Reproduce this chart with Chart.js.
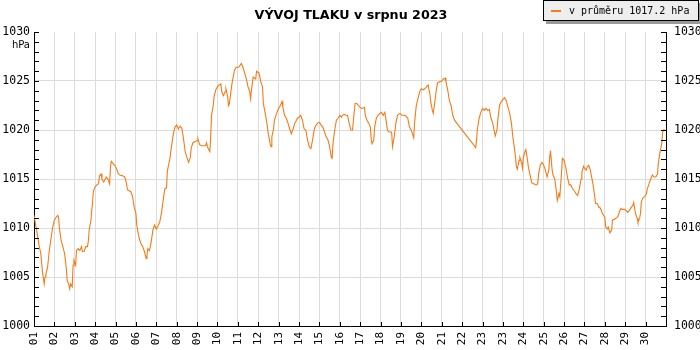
<!DOCTYPE html>
<html>
<head>
<meta charset="utf-8">
<script src="https://cdn.jsdelivr.net/npm/chart.js@4.4.0/dist/chart.umd.min.js"></script>
<style>
  html, body { margin: 0; padding: 0; background: #fff; }
  #wrap { width: 700px; height: 350px; }
</style>
</head>
<body>
<div id="wrap"><canvas id="c" width="700" height="350"></canvas></div>
<script>
const TITLE = 'VÝVOJ TLAKU v srpnu 2023';
const LEGEND_TEXT = 'v průměru 1017.2 hPa';
const UNIT = 'hPa';
const DAY_LABELS = ['01','02','03','04','05','06','07','08','09','10','11','12','13','14','15','16','17','18','19','20','21','22','23','23','24','25','26','27','28','29','30'];
const Y_MIN = 1000, Y_MAX = 1030;
const HOURS_TOTAL = 744;

// hours since 1 Aug 00:00
const hours = [0,3,6,8,10,12,13,14,16,18,20,22,24,26,28,29,30,32,34,36,37,38,39,41,42,43,45,46,47,49,50,52,54,56,57,59,61,63,64,65,67,68,69,70,72,74,76,77,79,80,82,84,85,87,89,90,91,93,95,97,99,101,105,107,109,110,112,114,116,118,120,121,123,124,126,128,130,132,133,134,136,138,140,142,144,146,148,150,152,154,156,157,160,162,164,166,168,170,172,174,176,178,180,182,184,185,187,189,192,193,195,197,199,202,203,205,207,208,209,211,212,214,216,218,220,221,223,225,226,228,229,230,233,236,238,241,244,246,248,250,252,254,255,256,258,261,262,265,267,269,270,272,274,276,278,279,280,282,283,286,288,290,292,293,295,297,299,301,303,305,307,309,310,312,314,316,318,320,322,324,326,328,330,332,334,336,338,340,342,344,346,348,350,351,352,354,356,358,360,362,363,365,367,369,371,373,375,376,378,380,382,384,386,389,390,392,394,396,397,398,400,401,403,405,407,409,411,413,415,416,418,421,422,424,426,428,429,431,433,436,438,440,442,444,446,447,448,450,452,454,456,458,460,462,464,466,467,469,470,471,473,475,477,480,482,484,485,487,489,491,493,495,520,521,522,524,526,528,530,532,534,536,538,540,542,543,545,546,548,550,552,554,556,558,560,562,564,566,568,569,571,572,574,575,576,578,579,581,582,584,586,589,591,593,594,596,598,600,602,604,606,607,608,610,611,613,615,616,618,619,621,622,624,626,628,630,632,634,636,638,640,642,644,645,647,648,650,651,653,655,656,658,660,661,663,665,666,668,669,672,673,675,676,678,680,681,683,685,687,689,691,693,695,697,699,701,703,705,706,708,710,711,713,714,715,717,719,721,722,724,726,728,730,732,734,735,737,739,740,742];

const pressure = [1011.3,1009.8,1008.2,1007.4,1005.5,1004.3,1005.0,1005.3,1006.0,1007.7,1008.9,1010.1,1010.8,1011.1,1011.3,1011.0,1009.9,1008.7,1008.1,1007.4,1006.7,1005.9,1004.7,1004.2,1003.8,1004.3,1004.0,1006.2,1006.7,1006.2,1007.7,1007.9,1007.7,1008.1,1007.6,1007.6,1008.1,1008.1,1008.7,1009.8,1010.8,1011.8,1012.7,1013.8,1014.2,1014.4,1014.5,1015.3,1015.5,1015.0,1014.7,1015.0,1015.2,1015.0,1014.5,1016.2,1016.8,1016.6,1016.4,1016.1,1015.6,1015.4,1015.3,1015.2,1014.5,1013.9,1013.8,1013.7,1013.2,1012.1,1011.5,1010.3,1009.3,1008.9,1008.4,1008.1,1007.6,1006.9,1007.2,1007.9,1007.7,1008.6,1009.8,1010.3,1009.9,1010.2,1010.6,1011.5,1012.8,1014.0,1014.1,1015.8,1017.1,1018.4,1019.6,1020.3,1020.5,1020.1,1020.4,1020.2,1019.1,1017.8,1017.2,1016.7,1017.2,1018.1,1018.7,1018.8,1018.9,1019.1,1018.5,1018.4,1018.4,1018.4,1018.7,1018.1,1017.8,1019.3,1021.5,1022.5,1023.4,1024.1,1024.4,1024.6,1024.7,1023.9,1023.5,1023.9,1024.2,1023.4,1022.5,1022.7,1024.7,1026.1,1026.4,1026.4,1026.8,1026.4,1025.8,1025.2,1024.4,1023.9,1023.2,1024.1,1025.4,1025.2,1026.0,1025.8,1024.9,1024.4,1022.7,1021.8,1020.8,1019.5,1018.6,1018.3,1019.3,1020.1,1021.0,1021.8,1022.2,1022.5,1022.9,1022.3,1021.5,1021.2,1020.7,1020.1,1019.6,1020.1,1020.7,1021.0,1021.2,1021.3,1021.5,1021.0,1020.1,1020.0,1019.0,1018.3,1018.1,1019.0,1020.1,1020.5,1020.7,1020.8,1020.5,1020.3,1019.8,1019.3,1019.0,1018.3,1017.2,1017.1,1018.6,1020.0,1021.0,1021.2,1021.5,1021.3,1021.5,1021.6,1021.5,1021.5,1020.7,1020.0,1020.0,1021.0,1022.7,1022.7,1022.5,1022.3,1022.2,1022.3,1021.5,1021.0,1020.7,1020.3,1019.0,1018.6,1019.0,1020.3,1021.2,1021.5,1021.7,1021.8,1021.5,1021.8,1020.7,1020.0,1019.8,1019.8,1018.3,1019.3,1020.7,1021.5,1021.6,1021.7,1021.5,1021.5,1021.4,1021.2,1020.3,1020.0,1019.5,1019.2,1020.7,1022.5,1023.2,1023.9,1024.2,1024.1,1024.2,1024.4,1024.6,1023.7,1022.9,1022.0,1021.7,1022.3,1023.7,1024.8,1024.9,1025.0,1025.2,1025.3,1024.9,1024.1,1023.0,1022.5,1021.5,1021.0,1018.2,1019.0,1020.1,1021.2,1021.8,1022.2,1022.0,1022.2,1022.0,1022.1,1021.2,1020.7,1019.8,1019.4,1020.0,1021.0,1022.5,1022.9,1023.1,1023.3,1023.0,1022.3,1021.7,1020.7,1019.1,1017.9,1016.2,1016.0,1016.9,1017.2,1016.7,1016.1,1017.2,1017.8,1018.0,1016.9,1016.2,1015.4,1014.6,1014.5,1014.4,1014.5,1015.5,1016.4,1016.7,1016.4,1015.9,1015.2,1015.9,1017.1,1017.9,1015.9,1015.4,1015.0,1013.7,1012.8,1013.5,1013.2,1015.6,1017.1,1016.9,1016.2,1015.2,1014.4,1014.4,1014.0,1013.8,1013.5,1013.3,1014.0,1015.0,1015.7,1016.3,1016.1,1015.9,1016.2,1016.4,1015.9,1015.4,1014.5,1013.3,1012.5,1012.5,1012.1,1012.1,1011.8,1011.5,1011.1,1010.1,1009.9,1010.1,1009.5,1009.8,1010.8,1010.9,1011.0,1011.1,1011.6,1012.0,1011.9,1011.9,1011.8,1011.6,1011.8,1012.1,1012.3,1012.6,1011.5,1011.0,1010.6,1011.0,1011.5,1012.7,1013.1,1013.2,1013.5,1014.0,1014.5,1015.0,1015.4,1015.2,1015.2,1015.5,1016.6,1017.8,1018.6,1019.8,1020.1];

const LINE_COLOR = '#f47b16';
const GRID_COLOR = '#dcdcdc';
const MONO = '"DejaVu Sans Mono", monospace';

const decorPlugin = {
  id: 'decor',
  afterDraw(chart) {
    const { ctx, chartArea: a, scales } = chart;
    const x = scales.x, y = scales.y;
    ctx.save();
    // inward tick marks
    ctx.strokeStyle = '#000';
    ctx.lineWidth = 1;
    ctx.beginPath();
    for (let v = y.min; v <= y.max; v++) {
      const py = Math.round(y.getPixelForValue(v)) + 0.5;
      ctx.moveTo(a.left, py); ctx.lineTo(a.left + 5, py);
      ctx.moveTo(a.right, py); ctx.lineTo(a.right - 5, py);
    }
    for (let d = 0; d < DAY_LABELS.length; d++) {
      const px = Math.round(x.getPixelForValue(d * 24)) + 0.5;
      ctx.moveTo(px, a.bottom); ctx.lineTo(px, a.bottom - 4);
    }
    ctx.stroke();

    // unit under top label
    ctx.fillStyle = '#000';
    ctx.font = '10px "DejaVu Sans", sans-serif';
    ctx.textAlign = 'right';
    ctx.textBaseline = 'middle';
    ctx.fillText(UNIT, a.left - 4, y.getPixelForValue(y.max) + 13);

    // title
    ctx.font = 'bold 12.7px "DejaVu Sans", sans-serif';
    ctx.textAlign = 'center';
    ctx.textBaseline = 'alphabetic';
    ctx.fillText(TITLE, 351, 18.5);

    // legend box with shadow
    ctx.fillStyle = '#9a9a9a';
    ctx.fillRect(546, 3, 156, 21);
    ctx.fillStyle = '#eeeeee';
    ctx.fillRect(543, 0, 156, 21);
    ctx.strokeStyle = '#000';
    ctx.strokeRect(543.5, 0.5, 155, 20);
    ctx.strokeStyle = LINE_COLOR;
    ctx.lineWidth = 2;
    ctx.beginPath();
    ctx.moveTo(551, 11); ctx.lineTo(561, 11);
    ctx.stroke();
    ctx.fillStyle = '#000';
    ctx.font = '10px ' + MONO;
    ctx.textAlign = 'left';
    ctx.textBaseline = 'middle';
    ctx.fillText(LEGEND_TEXT, 569, 11);
    ctx.restore();
  }
};

new Chart(document.getElementById('c'), {
  type: 'line',
  data: {
    datasets: [{
      data: hours.map((h, i) => ({ x: h, y: pressure[i] })),
      borderColor: LINE_COLOR,
      borderWidth: 1.1,
      pointRadius: 0,
      tension: 0,
      fill: false
    }]
  },
  options: {
    responsive: false,
    animation: false,
    devicePixelRatio: 1,
    layout: { padding: { top: 32, left: 0, right: 0, bottom: 0 } },
    plugins: { legend: { display: false }, title: { display: false }, tooltip: { enabled: false } },
    scales: {
      x: {
        type: 'linear', min: 0, max: HOURS_TOTAL,
        afterFit(s) { s.height = 24; },
        ticks: {
          stepSize: 24, autoSkip: false, minRotation: 90, maxRotation: 90, padding: 6,
          color: '#000', font: { family: MONO, size: 11 },
          callback: (v) => { const l = DAY_LABELS[Math.round(v / 24)]; return (v % 24 === 0 && l) ? l : ''; }
        },
        grid: { color: GRID_COLOR, drawTicks: false },
        border: { color: '#000' }
      },
      y: {
        position: 'left', min: Y_MIN, max: Y_MAX,
        afterFit(s) { s.width = 34; },
        ticks: {
          stepSize: 1, autoSkip: false, padding: 4, color: '#000', font: { family: MONO, size: 11.5 },
          callback: (v) => (v % 5 === 0 ? String(v) : '')
        },
        grid: {
          drawTicks: false,
          color: (c) => (c.tick && c.tick.value % 5 === 0 && c.tick.value > Y_MIN && c.tick.value < Y_MAX) ? GRID_COLOR : 'rgba(0,0,0,0)'
        },
        border: { color: '#000' }
      },
      y2: {
        position: 'right', min: Y_MIN, max: Y_MAX,
        afterFit(s) { s.width = 34; },
        ticks: {
          stepSize: 5, autoSkip: false, padding: 8, color: '#000', font: { family: MONO, size: 11.5 },
          callback: (v) => String(v)
        },
        grid: { drawOnChartArea: false, drawTicks: false },
        border: { color: '#000' }
      }
    }
  },
  plugins: [decorPlugin]
});
</script>
</body>
</html>
